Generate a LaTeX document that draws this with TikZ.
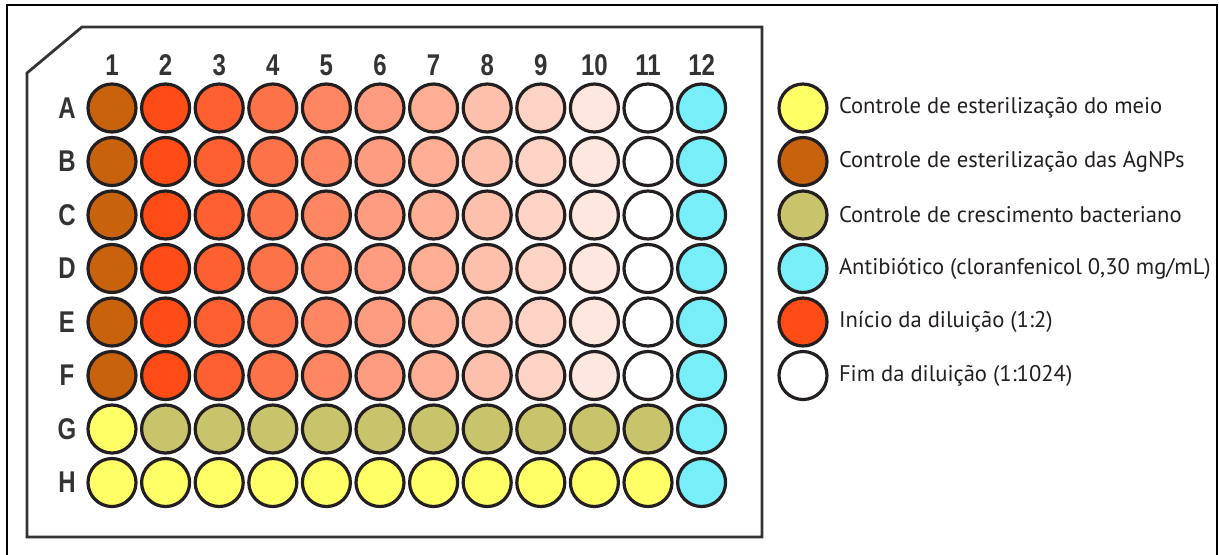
\documentclass[tikz,border=0pt]{standalone}
\usepackage{fontspec}
\setmainfont{PT Sans}
\newfontfamily\platefont{Liberation Sans}
\usetikzlibrary{positioning}
\definecolor{wellline}{HTML}{231F20}
\definecolor{plateline}{HTML}{333333}
\definecolor{meio}{HTML}{FFFF66}
\definecolor{agnp}{HTML}{C8620C}
\definecolor{cresc}{HTML}{C8C46C}
\definecolor{antib}{HTML}{78EEF8}
\definecolor{dilA}{HTML}{FF4C16}
\definecolor{dilB}{HTML}{FF6032}
\definecolor{dilC}{HTML}{FE7249}
\definecolor{dilD}{HTML}{FE8663}
\definecolor{dilE}{HTML}{FD9C80}
\definecolor{dilF}{HTML}{FDAE94}
\definecolor{dilG}{HTML}{FDC0AC}
\definecolor{dilH}{HTML}{FDD3C6}
\definecolor{dilI}{HTML}{FEE7DF}
\definecolor{dilJ}{HTML}{FFFFFF}
\newcommand{\narrowlabel}[1]{\scalebox{0.8}[1]{#1}}
\tikzset{
  well/.style={circle, draw=wellline, line width=1.6pt, minimum size=24pt, inner sep=0pt},
  platelabel/.style={font=\platefont\bfseries\fontsize{15}{15}\selectfont, text=plateline, inner sep=0pt},
  legendtext/.style={font=\fontsize{11.3}{13}\selectfont, text=wellline, inner sep=0pt}
}

\begin{document}
\begin{tikzpicture}[x=0.5pt,y=-0.5pt]
\useasboundingbox (0,0) rectangle (1219,554);
\draw[line width=1.1pt] (7,5) rectangle (1217,562);
\draw[draw=plateline, line width=1.4pt] (82,27) -- (762,27) -- (762,537) -- (27,537) -- (27,73) -- cycle;
\foreach \c in {1,...,12}
  \node[platelabel] (col\c) at ({112+(\c-1)*53.6},65) {\narrowlabel{\c}};
\foreach \r [count=\i] in {A,B,C,D,E,F,G,H}
  \node[platelabel] (row\r) at (67,{108+(\i-1)*53.5}) {\narrowlabel{\r}};
\foreach \c/\tint in {1/agnp,2/dilA,3/dilB,4/dilC,5/dilD,6/dilE,7/dilF,8/dilG,9/dilH,10/dilI,11/dilJ,12/antib}
  \foreach \r [count=\i] in {A,B,C,D,E,F}
    \node[well, fill=\tint] (w\r\c) at ({112+(\c-1)*53.6},{108+(\i-1)*53.5}) {};
\foreach \c/\tint in {1/meio,2/cresc,3/cresc,4/cresc,5/cresc,6/cresc,7/cresc,8/cresc,9/cresc,10/cresc,11/cresc,12/antib}
  \node[well, fill=\tint] (wG\c) at ({112+(\c-1)*53.6},429) {};
\foreach \c/\tint in {1/meio,2/meio,3/meio,4/meio,5/meio,6/meio,7/meio,8/meio,9/meio,10/meio,11/meio,12/antib}
  \node[well, fill=\tint] (wH\c) at ({112+(\c-1)*53.6},482.5) {};
\foreach \tint/\txt [count=\i] in {meio/{Controle de esterilização do meio},agnp/{Controle de esterilização das AgNPs},cresc/{Controle de crescimento bacteriano},antib/{Antibiótico (cloranfenicol 0,30 mg/mL)},dilA/{Início da diluição (1:2)},dilJ/{Fim da diluição (1:1024)}} {
  \node[well, fill=\tint] (key\i) at (803,{108+(\i-1)*53.5}) {};
  \node[legendtext, right=5pt of key\i] (keytext\i) {\txt};
}
\end{tikzpicture}
\end{document}
